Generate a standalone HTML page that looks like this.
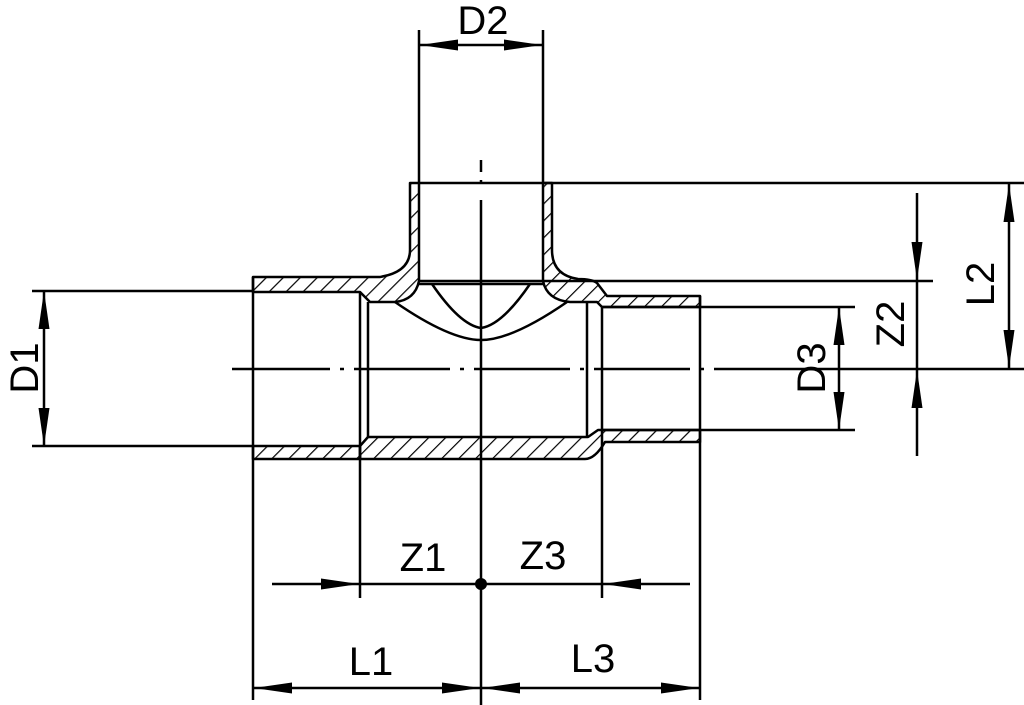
<!DOCTYPE html>
<html><head><meta charset="utf-8"><style>html,body{margin:0;padding:0;background:#fff}svg{display:block}</style></head>
<body>
<svg width="1024" height="705" viewBox="0 0 1024 705" xmlns="http://www.w3.org/2000/svg">
<defs>
<pattern id="h" patternUnits="userSpaceOnUse" width="12" height="12" patternTransform="rotate(45)">
<line x1="0" y1="0" x2="0" y2="12" stroke="#000" stroke-width="2.4"/>
</pattern>
<marker id="a" viewBox="0 0 38 12" refX="38" refY="6" markerWidth="38" markerHeight="12" markerUnits="userSpaceOnUse" orient="auto-start-reverse">
<path d="M0,0.5 L38,6 L0,11.5 Z" fill="#000"/>
</marker>
</defs>
<g fill="url(#h)" stroke="#000" stroke-width="2.5" stroke-linejoin="round">
<path d="M253,277 L380,277 Q410,272 410,250 L410,183 L419,183 L419,281 Q415,300 395,302 L370,302 L360,292 L253,292 Z"/>
<path d="M552,183 L543,183 L543,281 Q547,300 570,302 L597,302 L602,307 L700,307 L700,296 L607,296 L597,283 Q592,279 578,279 Q552,275 552,250 Z"/>
<path d="M253,446 L360,446 L360,459 L253,459 Z"/>
<path d="M360,459 L360,446 L368,437 L588,437 L598,430 L700,430 L700,442 L605,442 Q595,459 585,459 Z"/>
</g>
<g stroke="#000" stroke-width="2.5" fill="none">
<line x1="253" y1="277" x2="253" y2="700"/>
<line x1="700" y1="296" x2="700" y2="700"/>
<line x1="360" y1="292" x2="360" y2="598"/>
<line x1="602" y1="307" x2="602" y2="598"/>
<line x1="368" y1="302" x2="368" y2="437"/>
<line x1="587" y1="302" x2="587" y2="437"/>
<line x1="419" y1="30" x2="419" y2="183"/>
<line x1="543" y1="30" x2="543" y2="183"/>
<line x1="419" y1="183" x2="1024" y2="183"/>
<line x1="419" y1="281" x2="933" y2="281"/>
<line x1="419" y1="284" x2="543" y2="284"/>
<line x1="602" y1="307" x2="855" y2="307"/>
<line x1="602" y1="430" x2="855" y2="430"/>
<line x1="32" y1="291" x2="253" y2="291"/>
<line x1="32" y1="446" x2="253" y2="446"/>
<path d="M432,284 Q460,325 481,328 Q502,325 530,284"/>
<path d="M395,302 Q450,340 481,340 Q512,340 567,302"/>
<line x1="481" y1="200" x2="481" y2="705"/>
<line x1="481" y1="160" x2="481" y2="172"/>
<line x1="481" y1="180" x2="481" y2="184" />
<path d="M232,369 L330,369 M340,369 L344,369 M354,369 L450,369 M460,369 L464,369 M474,369 L570,369 M580,369 L584,369 M594,369 L690,369 M700,369 L704,369 M714,369 L1024,369"/>
<line x1="44" y1="291" x2="44" y2="446" marker-start="url(#a)" marker-end="url(#a)"/>
<line x1="420" y1="45" x2="542" y2="45" marker-start="url(#a)" marker-end="url(#a)"/>
<line x1="839" y1="307" x2="839" y2="430" marker-start="url(#a)" marker-end="url(#a)"/>
<line x1="1009" y1="184" x2="1009" y2="368" marker-start="url(#a)" marker-end="url(#a)"/>
<line x1="917" y1="193" x2="917" y2="280" marker-end="url(#a)"/>
<line x1="917" y1="281" x2="917" y2="369"/>
<line x1="917" y1="456" x2="917" y2="370" marker-end="url(#a)"/>
<line x1="272" y1="584" x2="359" y2="584" marker-end="url(#a)"/>
<line x1="360" y1="584" x2="602" y2="584"/>
<line x1="690" y1="584" x2="603" y2="584" marker-end="url(#a)"/>
<line x1="254" y1="688" x2="480" y2="688" marker-start="url(#a)" marker-end="url(#a)"/>
<line x1="482" y1="688" x2="699" y2="688" marker-start="url(#a)" marker-end="url(#a)"/>
</g>
<circle cx="481" cy="584" r="6" fill="#000"/>
<g font-family="Liberation Sans, sans-serif" font-size="40" fill="#000">
<text x="483" y="34" text-anchor="middle">D2</text>
<text x="423" y="571" text-anchor="middle">Z1</text>
<text x="543" y="569" text-anchor="middle">Z3</text>
<text x="371" y="675" text-anchor="middle">L1</text>
<text x="593" y="672" text-anchor="middle">L3</text>
<text transform="translate(38,368) rotate(-90)" text-anchor="middle">D1</text>
<text transform="translate(825,368) rotate(-90)" text-anchor="middle">D3</text>
<text transform="translate(904,324) rotate(-90)" text-anchor="middle">Z2</text>
<text transform="translate(994,284) rotate(-90)" text-anchor="middle">L2</text>
</g>
</svg>
</body></html>
